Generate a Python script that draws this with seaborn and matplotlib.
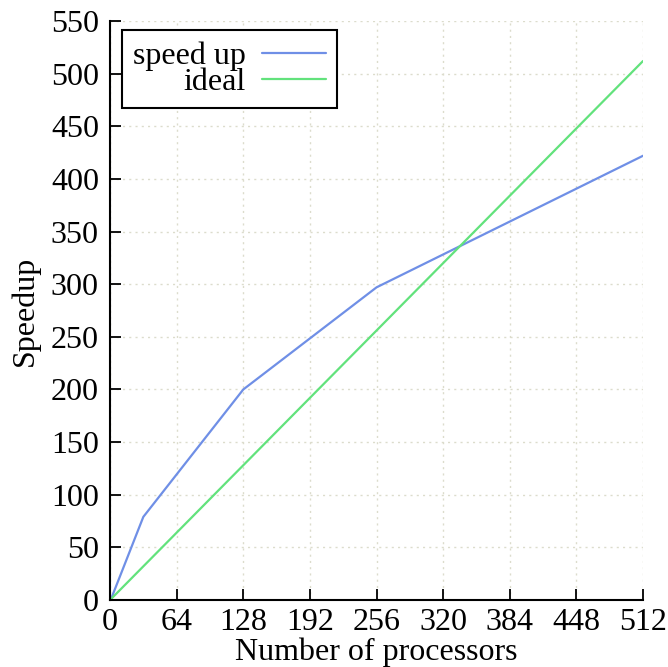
import matplotlib
matplotlib.use("Agg")
import matplotlib.pyplot as plt
from matplotlib.lines import Line2D
import seaborn as sns
import pandas as pd

# measured speedup vs processor count
procs = [1, 32, 128, 256, 512]
speedup = [1, 79, 200, 297, 422]
# ideal linear scaling
ideal_procs = [1, 512]
ideal_speedup = [1, 512]

x_ticks = [0, 64, 128, 192, 256, 320, 384, 448, 512]
y_ticks = list(range(0, 551, 50))

sns.set_theme(style="white")
plt.rcParams["font.family"] = ["Liberation Serif", "DejaVu Serif"]

df = pd.concat([
    pd.DataFrame({"procs": procs, "speedup": speedup, "series": "speed up"}),
    pd.DataFrame({"procs": ideal_procs, "speedup": ideal_speedup, "series": "ideal"}),
])

FS = 23

fig = plt.figure(figsize=(6.68, 6.67), dpi=100)
ax = fig.add_axes([0.1647, 0.1004, 0.7979, 0.8681])

palette = {"speed up": "#6f8fe6", "ideal": "#62e27c"}
sns.lineplot(data=df, x="procs", y="speedup", hue="series", palette=palette,
             linewidth=1.6, ax=ax, legend=False, sort=False)

ax.set_xlim(0, 512)
ax.set_ylim(0, 550)
ax.set_xticks(x_ticks)
ax.set_yticks(y_ticks)
ax.grid(True, color="#dcdccc", linestyle=(0, (1.5, 3)), linewidth=1.0)

for side in ("top", "right"):
    ax.spines[side].set_visible(False)
for side in ("left", "bottom"):
    ax.spines[side].set_color("black")
    ax.spines[side].set_linewidth(1.5)

ax.tick_params(axis="both", direction="in", length=8, width=1.3, color="black",
               labelsize=FS, bottom=True, left=True, labelcolor="black")
ax.tick_params(axis="y", pad=8)
ax.tick_params(axis="x", pad=6)

ax.set_xlabel("Number of processors", fontsize=FS, labelpad=0, color="black")
ax.set_ylabel("Speedup", fontsize=FS, labelpad=8, color="black")

handles = [Line2D([], [], color=palette["speed up"], linewidth=1.6),
           Line2D([], [], color=palette["ideal"], linewidth=1.6)]
leg = ax.legend(handles, ["speed up", "ideal"], loc="upper left",
                bbox_to_anchor=(0.0225, 0.984), markerfirst=False,
                fontsize=FS, frameon=True, fancybox=False, framealpha=1,
                edgecolor="black", handlelength=2.0, labelspacing=-0.1,
                borderpad=0.35, handletextpad=0.5, borderaxespad=0.0)
leg.get_frame().set_linewidth(1.5)
for t in leg.get_texts():
    t.set_ha("right")
    t.set_color("black")
leg._legend_box.align = "right"

fig.savefig("out.png", dpi=100)
